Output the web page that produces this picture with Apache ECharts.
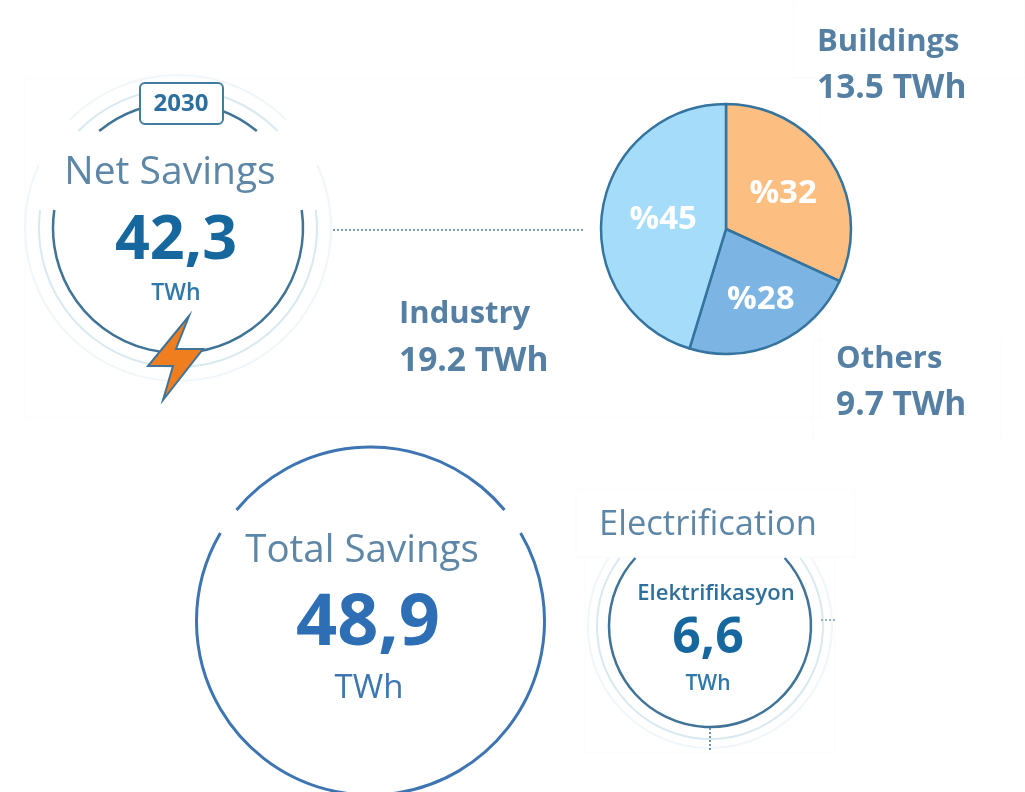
<!DOCTYPE html>
<html>
<head>
<meta charset="utf-8">
<style>
  html, body { margin: 0; padding: 0; background: #fff; }
  #chart { width: 1025px; height: 792px; }
</style>
<script src="https://cdn.jsdelivr.net/npm/echarts@6/dist/echarts.min.js"></script>
</head>
<body>
<div id="chart"></div>
<script>
const sectors = ['Buildings', 'Others', 'Industry'];
const sectorTwh = [13.5, 9.7, 19.2];
const sectorPercents = ['%32', '%28', '%45'];
const sectorColors = ['#fdbe82', '#7cb5e4', '#a5dcfa'];

const year = '2030';
const netSavings = '42,3';
const totalSavings = '48,9';
const electrification = '6,6';
const unit = 'TWh';

const FONT = '"Open Sans", sans-serif';
const LABEL = '#5e86a6';
const SECTOR_LABEL = '#5580a3';

function text(x, y, value, size, weight, fill, align) {
  return {
    type: 'text',
    z: 10,
    style: {
      x, y, text: value, fill,
      fontFamily: FONT,
      fontSize: size,
      fontWeight: weight,
      align: align || 'center',
      verticalAlign: 'middle'
    }
  };
}

// circle with the part between yFrom and yTo left out
function openCircle(cx, cy, r, yFrom, yTo, stroke, width) {
  const lineStyle = { fill: 'none', stroke, lineWidth: width };
  const lower = Math.asin((yTo - cy) / r);
  const parts = [{
    type: 'arc',
    shape: { cx, cy, r, startAngle: lower, endAngle: Math.PI - lower, clockwise: true },
    style: lineStyle
  }];
  if (yFrom !== null) {
    const upper = Math.asin((yFrom - cy) / r);
    parts.push({
      type: 'arc',
      shape: { cx, cy, r, startAngle: Math.PI - upper, endAngle: 2 * Math.PI + upper, clockwise: true },
      style: lineStyle
    });
  }
  return parts;
}

function dots(x1, y1, x2, y2, stroke) {
  return {
    type: 'line',
    shape: { x1, y1, x2, y2 },
    style: { stroke, lineWidth: 2, lineDash: [2, 2] }
  };
}

function faintBox(x, y, width, height) {
  return {
    type: 'rect',
    shape: { x, y, width, height },
    style: { fill: 'none', stroke: '#fbfbfc', lineWidth: 1 }
  };
}

const decorations = [
  // leftovers of the pasted boxes
  faintBox(25, 78, 795, 340),
  faintBox(794, 0, 231, 78),
  faintBox(813, 340, 188, 100),
  faintBox(576, 490, 279, 67),
  faintBox(585, 557, 250, 196),

  // net savings rings
  ...openCircle(178, 228, 153, 120, 165, '#f0f6f9', 2),
  ...openCircle(178, 228, 139, 131, 210, '#d9e9f0', 2),
  ...openCircle(178, 228, 125, 131, 210, '#3f7397', 2.5),
  {
    type: 'rect',
    z: 5,
    shape: { x: 140, y: 83, width: 83, height: 41, r: 5 },
    style: { fill: '#fff', stroke: '#3f7d9f', lineWidth: 2 }
  },
  {
    type: 'polygon',
    z: 5,
    shape: { points: [[189, 316], [148, 366], [173, 366], [163, 400], [203, 349], [176, 349]] },
    style: { fill: '#f07d1e', stroke: '#3f7397', lineWidth: 2 }
  },
  dots(333, 230, 585, 230, '#7f9db3'),

  // total savings
  ...openCircle(370.5, 621, 174, 510, 533, '#3d74b2', 3),

  // electrification rings
  ...openCircle(710, 626, 122, null, 558, '#f0f6f9', 2),
  ...openCircle(710, 626, 113, null, 558, '#d9e9f0', 2),
  ...openCircle(710, 626, 101, null, 558, '#3f7397', 2.5),
  dots(710, 728, 710, 752, '#6f92ab'),
  dots(821, 620, 835, 620, '#9db3c4')
];

const labels = [
  text(181, 104, year, 24, 700, '#2d6f9e'),
  text(170, 173, 'Net Savings', 39, 400, LABEL),
  text(176, 242, netSavings, 61, 700, '#17679f'),
  text(176, 293, unit, 23, 600, '#2f79aa'),

  text(817, 42, sectors[0], 31, 700, SECTOR_LABEL, 'left'),
  text(817, 88, sectorTwh[0] + ' ' + unit, 33.5, 700, SECTOR_LABEL, 'left'),
  text(399, 314, sectors[2], 31, 700, SECTOR_LABEL, 'left'),
  text(399, 361, sectorTwh[2] + ' ' + unit, 33.5, 700, SECTOR_LABEL, 'left'),
  text(836, 359, sectors[1], 31, 700, SECTOR_LABEL, 'left'),
  text(836, 405, sectorTwh[1] + ' ' + unit, 33.5, 700, SECTOR_LABEL, 'left'),

  text(362, 551, 'Total Savings', 38.5, 400, LABEL),
  text(368, 624, totalSavings, 72, 700, '#2e6eb5'),
  text(369, 689, unit, 33, 400, '#3d77b0'),

  text(708, 525, 'Electrification', 34.5, 400, LABEL),
  text(716, 594, 'Elektrifikasyon', 22, 600, '#2f6f9c'),
  text(708, 639, electrification, 50, 700, '#17679f'),
  text(708, 684, unit, 21, 600, '#2f79aa')
];

const myChart = echarts.init(document.getElementById('chart'), null, { renderer: 'canvas' });

myChart.setOption({
  animation: false,
  backgroundColor: '#fff',
  graphic: { elements: [...decorations, ...labels] },
  series: [
    {
      type: 'pie',
      center: [726, 229],
      radius: [0, 125],
      startAngle: 90,
      clockwise: true,
      silent: true,
      itemStyle: {
        borderColor: '#34749f',
        borderWidth: 2.5
      },
      label: {
        show: true,
        position: 'inside',
        color: '#fff',
        fontFamily: FONT,
        fontSize: 33,
        fontWeight: 700,
        formatter: (p) => sectorPercents[p.dataIndex]
      },
      labelLayout: (p) => (p.dataIndex === 1 ? { dx: 8, dy: 11 } : { dx: 2, dy: 0 }),
      labelLine: { show: false },
      data: sectors.map((name, i) => ({
        name,
        value: sectorTwh[i],
        itemStyle: { color: sectorColors[i] }
      }))
    }
  ]
});
</script>
</body>
</html>
